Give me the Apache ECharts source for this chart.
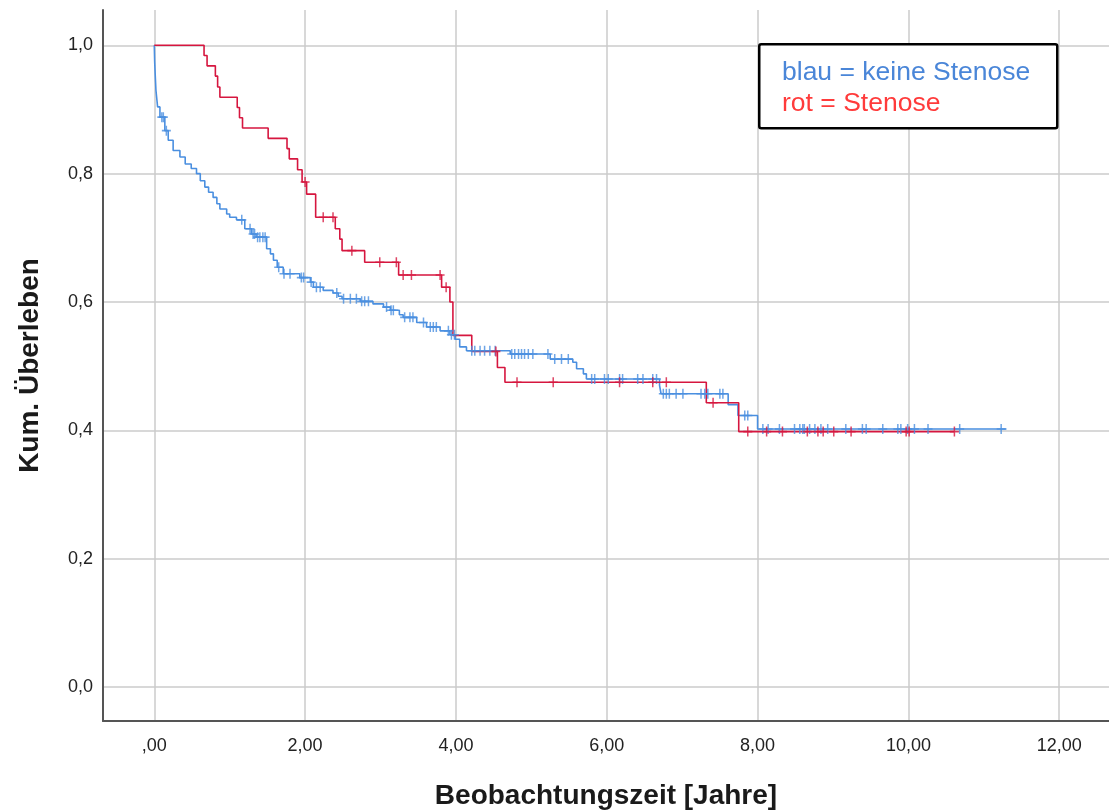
<!DOCTYPE html>
<html>
<head>
<meta charset="utf-8">
<script src="https://cdn.jsdelivr.net/npm/echarts@6/dist/echarts.min.js"></script>
<style>html,body{margin:0;padding:0;background:#fff}#c{width:1109px;height:811px}</style>
</head>
<body>
<div id="c"></div>
<script>
// ---- Data ----
const xTicks = [0, 2, 4, 6, 8, 10, 12];
const yTicks = [0, 0.2, 0.4, 0.6, 0.8, 1.0];

// Blue = keine Stenose: event times and survival after each step
const blueTimes = [0.005,0.012,0.022,0.044,0.075,0.14,0.185,0.25,0.34,0.41,0.49,0.56,0.61,0.67,0.72,0.78,0.83,0.87,0.96,1.00,1.09,1.20,1.29,1.35,1.49,1.54,1.58,1.63,1.71,1.93,2.07,2.11,2.24,2.37,2.44,2.49,2.73,2.90,3.04,3.13,3.25,3.30,3.48,3.61,3.79,3.92,3.99,4.05,4.14,4.72,5.25,5.55,5.60,5.69,5.73,6.70,6.72,7.61,7.74,8.00];
const blueSurv  = [0.975,0.955,0.930,0.904,0.888,0.867,0.852,0.836,0.826,0.815,0.808,0.800,0.789,0.779,0.771,0.763,0.753,0.745,0.737,0.732,0.728,0.714,0.706,0.701,0.683,0.675,0.665,0.654,0.644,0.638,0.631,0.623,0.618,0.614,0.609,0.605,0.601,0.597,0.592,0.587,0.580,0.576,0.568,0.561,0.555,0.549,0.542,0.530,0.524,0.519,0.511,0.506,0.496,0.488,0.480,0.470,0.457,0.440,0.423,0.402];
const blueEnd = 11.30;
const blueCensor = [0.10,0.12,0.16,1.16,1.27,1.31,1.33,1.37,1.40,1.44,1.47,1.65,1.72,1.80,1.95,1.98,2.08,2.15,2.20,2.42,2.51,2.60,2.68,2.75,2.79,2.84,3.08,3.14,3.17,3.32,3.39,3.43,3.57,3.66,3.70,3.74,3.90,3.94,3.98,4.21,4.25,4.32,4.38,4.45,4.52,4.74,4.78,4.83,4.87,4.91,4.96,5.02,5.22,5.31,5.40,5.49,5.80,5.84,5.97,6.02,6.17,6.21,6.41,6.48,6.61,6.66,6.75,6.79,6.83,6.92,7.01,7.25,7.30,7.34,7.50,7.54,7.83,7.87,8.07,8.14,8.29,8.49,8.56,8.60,8.62,8.69,8.76,8.84,8.93,9.17,9.39,9.44,9.66,9.86,9.90,9.99,10.08,10.26,10.68,11.23];

// Red = Stenose
const redTimes = [0.66,0.70,0.81,0.84,0.87,1.10,1.13,1.17,1.51,1.76,1.79,1.90,1.96,2.02,2.14,2.40,2.46,2.49,2.79,3.24,3.81,3.92,3.96,4.21,4.55,4.65,7.32,7.75];
const redSurv  = [0.984,0.968,0.952,0.935,0.919,0.903,0.887,0.871,0.855,0.839,0.823,0.806,0.787,0.768,0.732,0.714,0.698,0.680,0.662,0.642,0.623,0.600,0.548,0.523,0.498,0.475,0.443,0.398];
const redEnd = 10.61;
const redCensor = [2.00,2.24,2.37,2.62,2.99,3.21,3.30,3.41,3.79,3.87,4.53,4.81,5.29,6.17,6.61,6.79,7.41,7.87,8.12,8.33,8.66,8.80,8.87,9.01,9.24,9.97,10.01,10.61];

const BLUE = '#4a8fe0';
const RED = '#d6163f';

function stepPoints(times, surv, end) {
  const pts = [[0, 1]];
  let prev = 1;
  for (let i = 0; i < times.length; i++) {
    pts.push([times[i], prev]);
    pts.push([times[i], surv[i]]);
    prev = surv[i];
  }
  pts.push([end, prev]);
  return pts;
}
function survAt(times, surv, t) {
  let s = 1;
  for (let i = 0; i < times.length; i++) { if (times[i] <= t) s = surv[i]; }
  return s;
}
const cross = 'path://M4,0h1.6v10h-1.6zM0,4.2h9.6v1.6h-9.6z';

const chart = echarts.init(document.getElementById('c'), null, {renderer: 'canvas'});
const FONT = '"Liberation Sans", Arial, sans-serif';
chart.setOption({
  animation: false,
  backgroundColor: '#ffffff',
  grid: {left: 103, top: 10, right: 0, bottom: 90, containLabel: false, outerBoundsMode: 'none'},
  xAxis: {
    type: 'value', min: -0.68, max: 12.66, splitNumber: 6,
    name: 'Beobachtungszeit [Jahre]', nameLocation: 'middle', nameGap: 61,
    nameTextStyle: {fontFamily: FONT, fontSize: 28, fontWeight: 'bold', color: '#1a1a1a'},
    axisLine: {show: true, onZero: false, lineStyle: {color: '#555', width: 2}},
    axisTick: {show: false},
    splitLine: {show: true, showMinLine: false, showMaxLine: false, lineStyle: {color: '#cbcbcb', width: 1.5}},
    axisLabel: {
      showMinLabel: false, showMaxLabel: false, margin: 16,
      fontFamily: FONT, fontSize: 18, color: '#222',
      formatter: v => {
        const r = Math.round(v);
        if (Math.abs(v - r) > 1e-6 || xTicks.indexOf(r) < 0) return '';
        return r === 0 ? ',00' : r.toFixed(2).replace('.', ',');
      }
    }
  },
  yAxis: {
    type: 'value', min: -0.053, max: 1.055, splitNumber: 5,
    name: 'Kum. Überleben', nameLocation: 'middle', nameGap: 59,
    nameTextStyle: {fontFamily: FONT, fontSize: 28, fontWeight: 'bold', color: '#1a1a1a'},
    axisLine: {show: true, onZero: false, lineStyle: {color: '#555', width: 2}},
    axisTick: {show: false},
    splitLine: {show: true, showMinLine: false, showMaxLine: false, lineStyle: {color: '#cbcbcb', width: 1.5}},
    axisLabel: {
      showMinLabel: false, showMaxLabel: false, margin: 10,
      fontFamily: FONT, fontSize: 18, color: '#222',
      formatter: v => {
        const ok = yTicks.some(t => Math.abs(t - v) < 1e-6);
        return ok ? v.toFixed(1).replace('.', ',') : '';
      }
    }
  },
  series: [
    {type: 'line', data: stepPoints(blueTimes, blueSurv, blueEnd), showSymbol: false, symbol: 'none',
     lineStyle: {color: BLUE, width: 1.6}, z: 3},
    {type: 'line', data: stepPoints(redTimes, redSurv, redEnd), showSymbol: false, symbol: 'none',
     lineStyle: {color: RED, width: 1.6}, z: 3},
    {type: 'scatter', data: blueCensor.map(t => [t, survAt(blueTimes, blueSurv, t)]),
     symbol: cross, symbolSize: [9, 10], itemStyle: {color: BLUE}, z: 4},
    {type: 'scatter', data: redCensor.map(t => [t, survAt(redTimes, redSurv, t)]),
     symbol: cross, symbolSize: [9, 10], itemStyle: {color: RED}, z: 5}
  ],
  graphic: [
    {type: 'rect', left: 758, top: 43, shape: {width: 298, height: 84, r: 2},
     style: {fill: '#ffffff', stroke: '#000', lineWidth: 2.5}, z: 100},
    {type: 'text', left: 782, top: 59, style: {text: 'blau = keine Stenose', fill: '#4a86d8', font: '26.5px "Liberation Sans", Arial, sans-serif'}, z: 101},
    {type: 'text', left: 782, top: 90, style: {text: 'rot = Stenose', fill: '#ff3b3b', font: '26.5px "Liberation Sans", Arial, sans-serif'}, z: 101}
  ]
});
</script>
</body>
</html>
